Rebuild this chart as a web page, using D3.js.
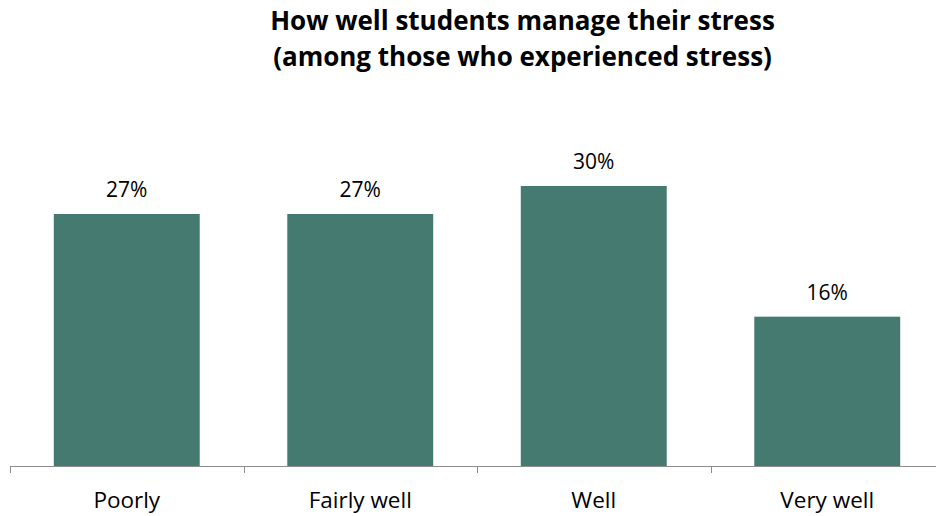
<!DOCTYPE html>
<html>
<head>
<meta charset="utf-8">
<script src="https://cdn.jsdelivr.net/npm/d3@7"></script>
<style>
  html, body { margin: 0; padding: 0; background: #fff; }
  svg { display: block; }
</style>
</head>
<body>
<svg id="chart" width="936" height="516"></svg>
<script>
// Stress management responses
const categories = ["Poorly", "Fairly well", "Well", "Very well"];
const values = [27, 27, 30, 16];
const valueLabels = ["27%", "27%", "30%", "16%"];
const titleLines = ["How well students manage their stress", "(among those who experienced stress)"];

const svg = d3.select("#chart");
const fontFamily = "'Open Sans', 'Liberation Sans', sans-serif";

const x = d3.scaleBand()
  .domain(categories)
  .range([10, 944])
  .paddingInner(0.375)
  .paddingOuter(0.1875);

const y = d3.scaleLinear()
  .domain([0, 30])
  .range([466, 186]);

// Title
svg.append("g")
  .selectAll("text")
  .data(titleLines)
  .join("text")
  .attr("x", 522.5)
  .attr("y", (d, i) => 30 + i * 36)
  .attr("text-anchor", "middle")
  .attr("font-family", fontFamily)
  .attr("font-weight", "bold")
  .attr("font-size", 26)
  .attr("fill", "#000")
  .text(d => d);

// Bars
svg.append("g")
  .selectAll("rect")
  .data(values)
  .join("rect")
  .attr("x", (d, i) => x(categories[i]))
  .attr("y", d => y(d))
  .attr("width", x.bandwidth())
  .attr("height", d => y(0) - y(d))
  .attr("fill", "#457a70");

// Value labels
svg.append("g")
  .selectAll("text")
  .data(values)
  .join("text")
  .attr("x", (d, i) => x(categories[i]) + x.bandwidth() / 2)
  .attr("y", d => y(d) - 17)
  .attr("text-anchor", "middle")
  .attr("font-family", fontFamily)
  .attr("font-size", 21)
  .attr("fill", "#000")
  .text((d, i) => valueLabels[i]);

// Category axis
const axis = d3.axisBottom(x).tickSize(0);
const gAxis = svg.append("g")
  .attr("transform", `translate(0,${y(0)})`)
  .call(axis);
gAxis.select(".domain").remove();
gAxis.selectAll("text")
  .attr("y", 42)
  .attr("dy", null)
  .attr("font-family", fontFamily)
  .attr("font-size", 22.5)
  .attr("fill", "#000");

// Baseline and boundary ticks between categories
const step = x.step();
const boundaries = d3.range(categories.length + 1).map(i => 10 + i * step);
gAxis.append("line")
  .attr("x1", 10).attr("x2", 944)
  .attr("y1", 0.5).attr("y2", 0.5)
  .attr("stroke", "#8c8c8c").attr("stroke-width", 1);
gAxis.selectAll(".bound")
  .data(boundaries)
  .join("line")
  .attr("class", "bound")
  .attr("x1", d => Math.round(d) + 0.5).attr("x2", d => Math.round(d) + 0.5)
  .attr("y1", 0).attr("y2", 7)
  .attr("stroke", "#8c8c8c").attr("stroke-width", 1);
</script>
</body>
</html>
